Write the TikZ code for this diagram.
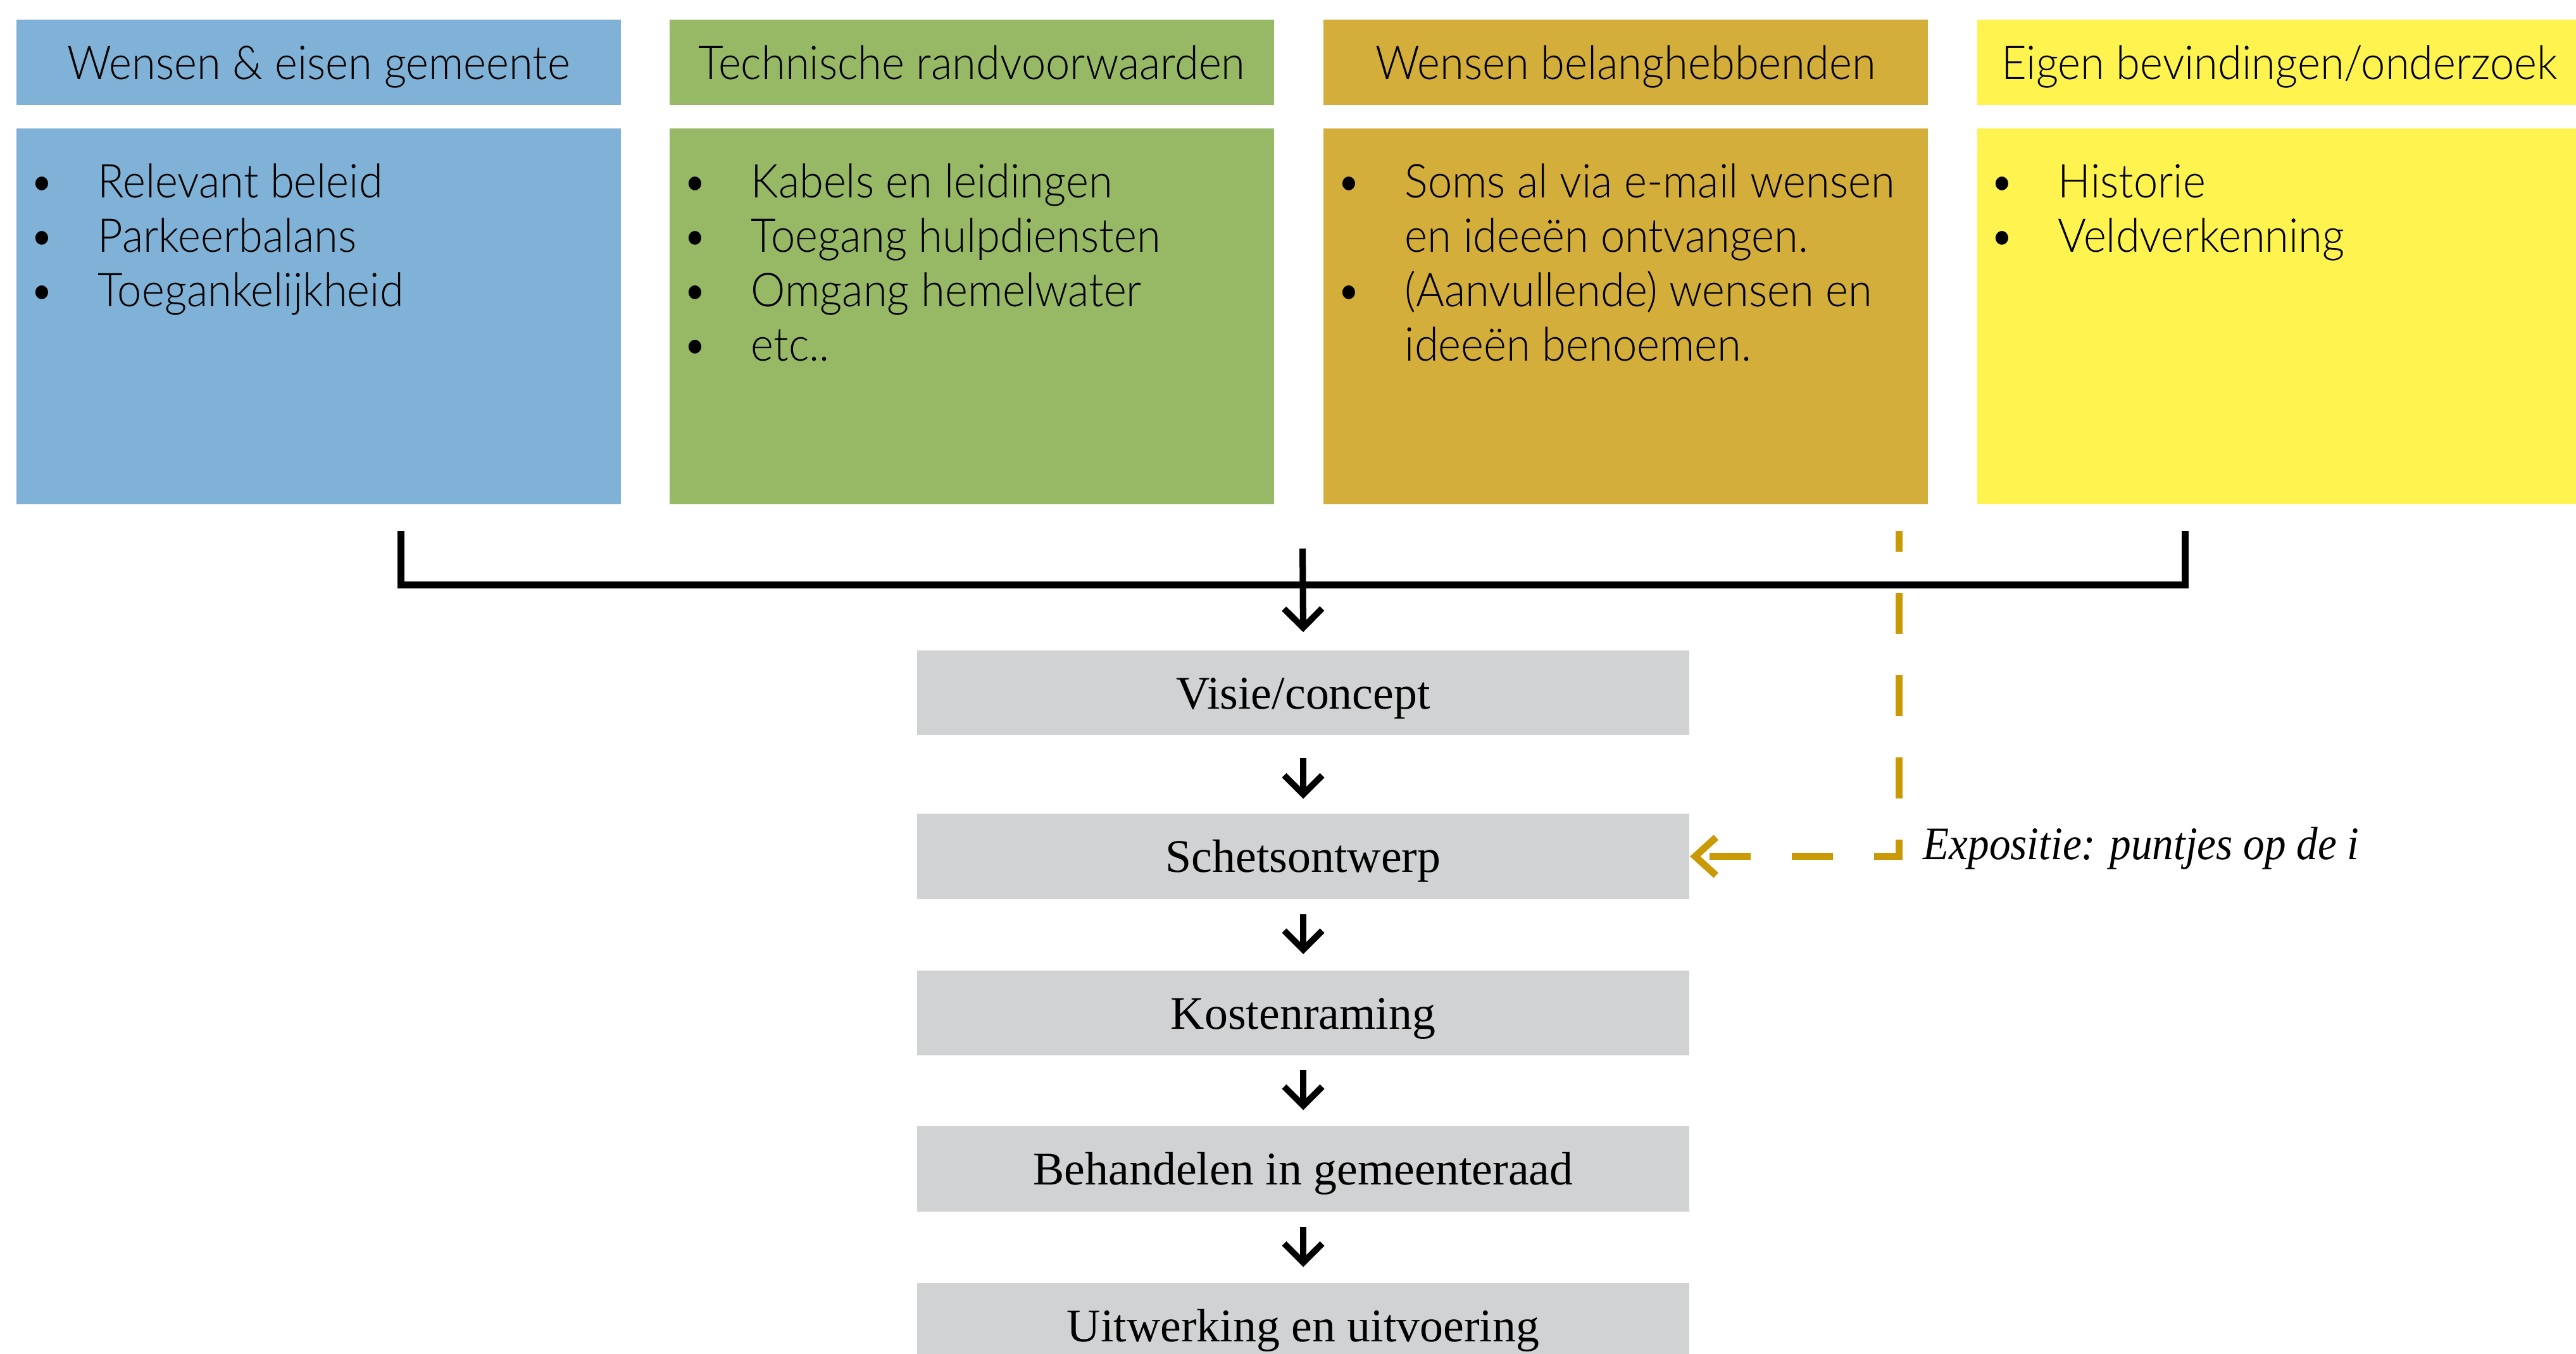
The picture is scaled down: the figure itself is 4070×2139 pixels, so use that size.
\documentclass[tikz,border=0pt]{standalone}
\usepackage{fontspec}
\usetikzlibrary{arrows.meta}
\IfFontExistsTF{Lato Light}{\newfontfamily\segoe{Lato Light}[FakeStretch=0.93]}{\newfontfamily\segoe{Lato}[FakeStretch=0.93]}
\newfontfamily\garamond{Liberation Serif}
\newfontfamily\garamondit{Liberation Serif Italic}[FakeStretch=0.91]
\definecolor{cblue}{RGB}{127,178,214}
\definecolor{cgreen}{RGB}{151,185,102}
\definecolor{cmustard}{RGB}{212,174,59}
\definecolor{cyellow}{RGB}{255,243,80}
\definecolor{cgray}{RGB}{209,210,212}
\definecolor{cgold}{RGB}{201,154,6}
\tikzset{
  hdr/.style={rectangle, inner sep=0pt, minimum height=1.35cm, minimum width=9.55cm, text height=0.53cm, text depth=0cm, font=\segoe\fontsize{21}{24.4}\selectfont, text=black},
  bodybox/.style={rectangle, inner sep=0pt, minimum height=5.94cm, minimum width=9.55cm},
  bline/.style={anchor=base west, inner sep=0pt, font=\segoe\fontsize{21}{24.4}\selectfont, text=black},
  procbox/.style={rectangle, fill=cgray, inner sep=0pt, minimum width=12.2cm, minimum height=1.345cm, text height=0.5cm, text depth=0cm, font=\garamond\fontsize{21}{25}\selectfont, text=black},
  flowarrow/.style={draw=black, line width=0.1cm, -{Straight Barb[length=0.3cm,width=0.6cm]}},
  bracketline/.style={draw=black, line width=0.11cm, line join=miter},
  goldline/.style={draw=cgold, line width=0.11cm, dash pattern=on 0.65cm off 0.65cm, dash phase=0.32cm, -{Straight Barb[length=0.33cm,width=0.6cm]}},
  exptext/.style={anchor=base west, inner sep=0pt, font=\garamondit\fontsize{21}{25}\selectfont, text=black}
}
\newcommand{\bul}[1]{\makebox[1.08cm][l]{•}#1}
\newcommand{\ind}[1]{\hspace*{1.08cm}#1}
\begin{document}
\begin{tikzpicture}[x=0.01cm,y=-0.01cm]
\useasboundingbox (0,0) rectangle (4070,2139);
% headers
\node[hdr, fill=cblue] (h1) at (503.5,98.5) {Wensen \& eisen gemeente};
\node[hdr, fill=cgreen] (h2) at (1535.5,98.5) {Technische randvoorwaarden};
\node[hdr, fill=cmustard] (h3) at (2568.5,98.5) {Wensen belanghebbenden};
\node[hdr, fill=cyellow] (h4) at (3601.5,98.5) {Eigen bevindingen/onderzoek};
% bodies
\node[bodybox, fill=cblue] (b1) at (503.5,500) {};
\node[bodybox, fill=cgreen] (b2) at (1535.5,500) {};
\node[bodybox, fill=cmustard] (b3) at (2568.5,500) {};
\node[bodybox, fill=cyellow] (b4) at (3601.5,500) {};
% body texts
\node[bline] (t11) at (46,312) {\bul{Relevant beleid}};
\node[bline] (t12) at (46,398) {\bul{Parkeerbalans}};
\node[bline] (t13) at (46,484) {\bul{Toegankelijkheid}};
\node[bline] (t21) at (1078,312) {\bul{Kabels en leidingen}};
\node[bline] (t22) at (1078,398) {\bul{Toegang hulpdiensten}};
\node[bline] (t23) at (1078,484) {\bul{Omgang hemelwater}};
\node[bline] (t24) at (1078,570) {\bul{etc..}};
\node[bline] (t31) at (2111,312) {\bul{Soms al via e-mail wensen}};
\node[bline] (t32) at (2111,398) {\ind{en ideeën ontvangen.}};
\node[bline] (t33) at (2111,484) {\bul{(Aanvullende) wensen en}};
\node[bline] (t34) at (2111,570) {\ind{ideeën benoemen.}};
\node[bline] (t41) at (3143,312) {\bul{Historie}};
\node[bline] (t42) at (3143,398) {\bul{Veldverkenning}};
% process boxes
\node[procbox] (p1) at (2059,1095) {Visie/concept};
\node[procbox] (p2) at (2059,1353.5) {Schetsontwerp};
\node[procbox] (p3) at (2059,1601) {Kostenraming};
\node[procbox] (p4) at (2059,1847.5) {Behandelen in gemeenteraad};
\node[procbox] (p5) at (2059,2095.5) {Uitwerking en uitvoering};
% bracket
\coordinate (bl) at (633,839);
\coordinate (blc) at (633,924);
\coordinate (brc) at (3452,924);
\coordinate (br) at (3452,839);
\draw[bracketline] (bl) -- (blc) -- (brc) -- (br);
\coordinate (ctop) at (2058,867);
\draw[flowarrow] (ctop) -- ([yshift=0.28cm]p1.north);
% flow arrows
\draw[flowarrow] ([yshift=-0.35cm]p1.south) -- ([yshift=0.23cm]p2.north);
\draw[flowarrow] ([yshift=-0.23cm]p2.south) -- ([yshift=0.25cm]p3.north);
\draw[flowarrow] ([yshift=-0.22cm]p3.south) -- ([yshift=0.25cm]p4.north);
\draw[flowarrow] ([yshift=-0.23cm]p4.south) -- ([yshift=0.25cm]p5.north);
% gold dashed feedback
\coordinate (gtop) at (3000,839);
\coordinate (gcorner) at (3000,1353.5);
\draw[goldline] (gtop) -- (gcorner) -- (p2.east);
\node[exptext] (expo) at (3038,1358) {Expositie: puntjes op de i};
\end{tikzpicture}
\end{document}
